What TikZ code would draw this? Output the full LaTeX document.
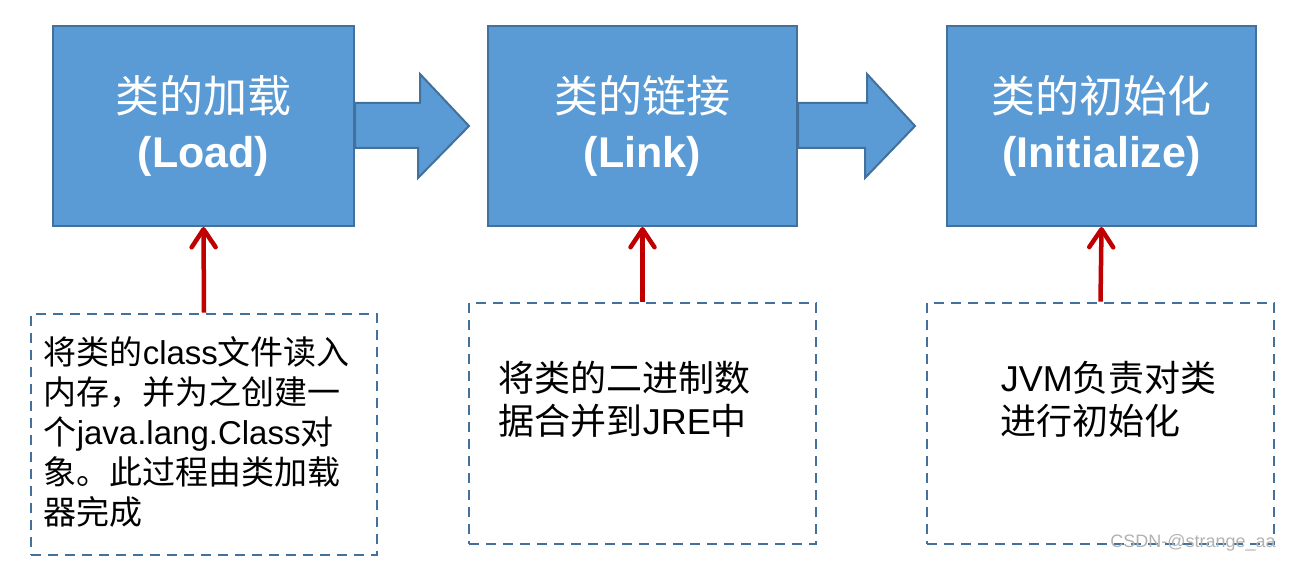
\documentclass[tikz,border=0pt]{standalone}
\usepackage{fontspec}
\setmainfont{Liberation Sans}
\newfontfamily\cjk{Noto Sans CJK SC}
\usetikzlibrary{arrows.meta, calc, positioning}
\definecolor{stageblue}{HTML}{5B9BD5}
\definecolor{stageedge}{HTML}{41719C}
\definecolor{feedred}{HTML}{C00000}
\tikzset{
  stage/.style={rectangle, draw=stageedge, fill=stageblue, line width=2pt,
    minimum height=200pt, text=white, align=center,
    font=\fontsize{44}{55}\selectfont},
  note/.style={rectangle, draw=stageedge, dash pattern=on 10pt off 7pt,
    line width=2.8pt, minimum width=347pt, minimum height=241pt},
  notetext/.style={anchor=north west, inner sep=0pt, align=left},
  bigarrow/.style={draw=stageedge, fill=stageblue, line width=2pt, line join=miter},
  feed/.style={-{Straight Barb[length=18pt, width=24pt, line width=4.5pt 0, round]},
    draw=feedred, line width=4.5pt}
}

\begin{document}
\begin{tikzpicture}[x=1pt, y=1pt]
\useasboundingbox (0,0) rectangle (1292,563);

%% Stages
\node[stage, minimum width=301pt] (load) at (203.5,437)
  {{\cjk 类的加载}\\{\fontsize{43}{55}\selectfont\bfseries (Load)}};
\node[stage, minimum width=309pt] (link) at (642.5,437)
  {{\cjk 类的链接}\\{\fontsize{43}{55}\selectfont\bfseries (Link)}};
\node[stage, minimum width=309pt] (init) at (1101.5,437)
  {{\cjk 类的初始化}\\{\fontsize{43}{55}\selectfont\bfseries (Initialize)}};

%% Block arrows between stages
\draw[bigarrow] ([yshift=23pt]load.east) -- ++(65,0) -- ++(0,29)
  -- ([xshift=-18pt]link.west) -- ++(-51,-52) -- ++(0,30)
  -- ([yshift=-22pt]load.east) -- cycle;
\draw[bigarrow] ([yshift=23pt]link.east) -- ++(69,0) -- ++(0,29)
  -- ([xshift=-31pt]init.west) -- ++(-50,-52) -- ++(0,30)
  -- ([yshift=-22pt]link.east) -- cycle;

%% Descriptions
\node[note, minimum width=346pt] (descA) at (204,128.5) {};
\node[note] (descB) at (642.5,139.5) {};
\node[note] (descC) at (1100.5,139.5) {};

\node[notetext, font=\fontsize{33}{40}\selectfont] (textA)
  at ([xshift=14pt, yshift=-24pt]descA.north west)
  {{\cjk 将类的}class{\cjk 文件读入}\\
   {\cjk 内存，并为之创建一}\\
   {\cjk 个}java.lang.Class{\cjk 对}\\
   {\cjk 象。此过程由类加载}\\
   {\cjk 器完成}};
\node[notetext, font=\fontsize{36}{43}\selectfont] (textB)
  at ([xshift=31pt, yshift=-59pt]descB.north west)
  {{\cjk 将类的二进制数}\\
   {\cjk 据合并到}JRE{\cjk 中}};
\node[notetext, font=\fontsize{36}{43}\selectfont] (textC)
  at ([xshift=75pt, yshift=-59pt]descC.north west)
  {JVM{\cjk 负责对类}\\
   {\cjk 进行初始化}};

%% Red feed arrows
\draw[feed] (descA.north) -- (load.south);
\draw[feed] (descB.north) -- (link.south);
\draw[feed] (descC.north) -- (init.south);

%% Watermark
\node[text=gray!60, font=\fontsize{18}{20}\selectfont] (mark) at (1193,20)
  {CSDN-@strange\_aa};

\end{tikzpicture}
\end{document}
